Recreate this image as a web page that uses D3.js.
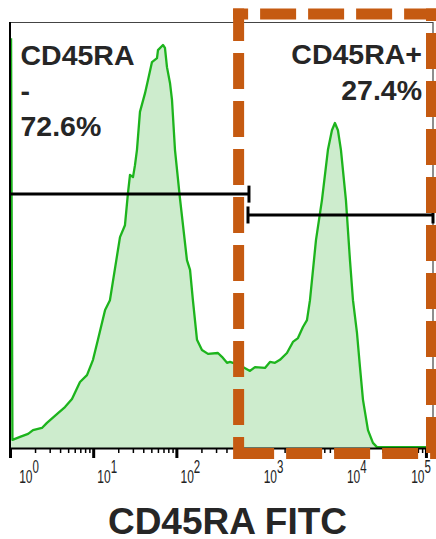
<!DOCTYPE html>
<html>
<head>
<meta charset="utf-8">
<script src="https://cdn.jsdelivr.net/npm/d3@7"></script>
<style>
  body { margin: 0; background: #fff; }
  svg { display: block; font-family: 'Liberation Sans', Arial, sans-serif; }
</style>
</head>
<body>
<div id="chart"></div>
<script>
// histogram: FITC intensity and events (% of the tallest bin)
const fluorescence = [
  1.03, 1.03, 1.07, 1.32, 1.65, 1.89, 2.42, 2.78, 3.78, 4.58, 5.56, 6.94, 8.42, 9.95,
  11.4, 13.9, 15.9, 21.0, 24.1, 26.2, 27.7, 30.1, 31.8, 33.6, 36.5, 42.0, 45.6, 50.9,
  58.5, 60.1, 69.0, 72.9, 77.1, 83.8, 88.6, 96.2, 110, 134, 146, 158, 177, 203, 240,
  316, 353, 406, 441, 479, 631, 767, 881, 1161, 1334, 1531, 1758, 2134, 2518, 2894,
  3323, 3715, 4036, 4766, 5623, 6637, 7413, 8054, 8750, 9510, 10920, 12210, 13270,
  14830, 16110, 17510, 20100, 23070, 25770, 121400
];
const counts = [
  0, 96.2, 1.9, 2.6, 3.3, 4.2, 4.7, 5.9, 8.2, 9.6, 11.5, 15.5, 17.1, 20.7,
  25.4, 32.4, 34.7, 49.5, 52.3, 59.9, 64.1, 63.6, 66.4, 70.0, 78.9, 83.3, 86.4, 90.6,
  91.5, 93.4, 94.6, 93.9, 89.4, 85.7, 81.7, 70.0, 58.9, 44.1, 41.8, 34.7, 25.4, 23.0, 22.1,
  22.3, 21.4, 20.0, 20.2, 20.0, 19.0, 18.1, 19.0, 18.8, 20.2, 20.0, 20.7, 22.3, 24.9, 25.8,
  28.4, 30.0, 34.7, 48.8, 58.2, 70.0, 74.6, 76.3, 74.6, 70.0, 58.2, 44.1, 34.7,
  27.0, 19.0, 11.3, 4.2, 1.2, 0.2, 0.2
];

const decades = [1, 10, 100, 1000, 10000, 100000];
const decadeExponents = ['0', '1', '2', '3', '4', '5'];

// the two gates
const gateStart = [1, 726];
const gateEnd = [746, 125000];
const gateLevel = [59.6, 54.7];
const leftLabel = ['CD45RA', '-', '72.6%'];
const rightLabel = ['CD45RA+', '27.4%'];

// start of the highlighted (positive) region
const highlightStart = 560;

const totalWidth = 436;
const totalHeight = 539;
const margin = { top: 22, right: 2, bottom: 91, left: 10 };
const graphWidth = totalWidth - margin.left - margin.right;
const graphHeight = totalHeight - margin.top - margin.bottom;

const svg = d3.select('#chart')
  .append('svg')
  .attr('width', totalWidth)
  .attr('height', totalHeight);

const graph = svg.append('g')
  .attr('transform', `translate(${margin.left}, ${margin.top})`);

// scales
const x = d3.scaleLog()
  .domain([1, 125000])
  .range([0, graphWidth]);

const y = d3.scaleLinear()
  .domain([0, 100])
  .range([graphHeight, 0]);

const points = fluorescence.map((v, i) => ({ v, c: counts[i] }));

// histogram fill + outline
graph.append('path')
  .datum(points)
  .attr('fill', '#cdeccd')
  .attr('d', d3.area().x(d => x(d.v)).y0(y(0)).y1(d => y(d.c)));

graph.append('path')
  .datum(points.slice(1))
  .attr('fill', 'none')
  .attr('stroke', '#1db41d')
  .attr('stroke-width', 2.3)
  .attr('stroke-linejoin', 'round')
  .attr('d', d3.line().x(d => x(d.v)).y(d => y(d.c)));

// frame: top and right
graph.append('path')
  .attr('fill', 'none')
  .attr('stroke', '#444')
  .attr('stroke-width', 1.2)
  .attr('d', `M-1,0.5H${graphWidth - 1}V${graphHeight}`);

// y axis is just a line
graph.append('line')
  .attr('x1', 0).attr('x2', 0)
  .attr('y1', 0).attr('y2', graphHeight)
  .attr('stroke', '#000')
  .attr('stroke-width', 2);

// x axis with log minor ticks
const tickValues = [];
decades.forEach(d => {
  for (let k = 1; k <= 9; k++) {
    if (k * d <= 125000) tickValues.push(k * d);
  }
});

const xAxis = d3.axisBottom(x)
  .tickValues(tickValues)
  .tickFormat('')
  .tickSizeOuter(0);

const xAxisGroup = graph.append('g')
  .attr('transform', `translate(0, ${graphHeight})`)
  .call(xAxis);

xAxisGroup.select('.domain')
  .attr('stroke', '#000')
  .attr('stroke-width', 2);

xAxisGroup.selectAll('.tick line')
  .attr('stroke', '#000')
  .attr('y2', d => decades.includes(d) ? 10 : 5)
  .attr('stroke-width', d => decades.includes(d) ? 3 : 1.5);

// tick labels 10^n (picture is stretched vertically)
const labels = graph.append('g');
decades.forEach((d, i) => {
  const cx = Math.max(19, Math.min(graphWidth - 13, x(d) + 14));
  const t = labels.append('text')
    .attr('transform', `translate(${cx}, ${graphHeight + 35}) scale(1, 1.6)`)
    .attr('text-anchor', 'middle')
    .attr('fill', '#222')
    .style('font-size', '12px');
  t.append('tspan').text('10');
  t.append('tspan')
    .attr('dy', -6.3)
    .style('font-size', '11.5px')
    .text(decadeExponents[i]);
});

// gates
const gates = graph.append('g')
  .attr('stroke', '#000')
  .attr('stroke-width', 3);

gateStart.forEach((g, i) => {
  const x0 = x(g);
  const x1 = Math.min(x(gateEnd[i]), graphWidth - 1);
  const gy = y(gateLevel[i]);
  gates.append('line')
    .attr('x1', x0).attr('x2', x1)
    .attr('y1', gy).attr('y2', gy);
  // no end bar where the gate starts on the axis
  const ends = x0 > 0 ? [x0, x1] : [x1];
  ends.forEach(ex => {
    gates.append('line')
      .attr('x1', ex).attr('x2', ex)
      .attr('y1', gy - 8.5).attr('y2', gy + 8.5);
  });
});

// gate labels
const labelStyle = sel => sel
  .attr('fill', '#262626')
  .style('font-size', '28.5px')
  .style('font-weight', 'bold');

leftLabel.forEach((t, i) => {
  graph.append('text')
    .attr('x', 10.5)
    .attr('y', 43 + i * 35.5)
    .call(labelStyle)
    .text(t);
});

rightLabel.forEach((t, i) => {
  graph.append('text')
    .attr('x', graphWidth - 12)
    .attr('y', 41.5 + i * 36.5)
    .attr('text-anchor', 'end')
    .call(labelStyle)
    .text(t);
});

// orange dashed highlight box around the positive gate
const boxLeft = x(highlightStart);
const boxRight = graphWidth - 2.5;
const boxTop = -8;
const boxBottom = graphHeight + 5.5;
const half = 5.5;
const edges = [
  { x1: boxLeft - half, y1: boxTop, x2: boxRight + half, y2: boxTop, off: 21 },
  { x1: boxLeft, y1: boxTop - half, x2: boxLeft, y2: boxBottom + half, off: 3.5 },
  { x1: boxLeft - half, y1: boxBottom, x2: boxRight + half, y2: boxBottom, off: 43 },
  { x1: boxRight, y1: boxTop - half, x2: boxRight, y2: boxBottom + half, off: 23.5 }
];

graph.append('g')
  .selectAll('line')
  .data(edges)
  .enter()
  .append('line')
  .attr('x1', d => d.x1).attr('y1', d => d.y1)
  .attr('x2', d => d.x2).attr('y2', d => d.y2)
  .attr('stroke', '#c55a11')
  .attr('stroke-width', 11)
  .attr('stroke-dasharray', '36,12')
  .attr('stroke-dashoffset', d => d.off);

// axis title
svg.append('text')
  .attr('x', 227.5)
  .attr('y', 534)
  .attr('text-anchor', 'middle')
  .attr('fill', '#262626')
  .style('font-size', '37px')
  .style('font-weight', 'bold')
  .text('CD45RA FITC');
</script>
</body>
</html>
